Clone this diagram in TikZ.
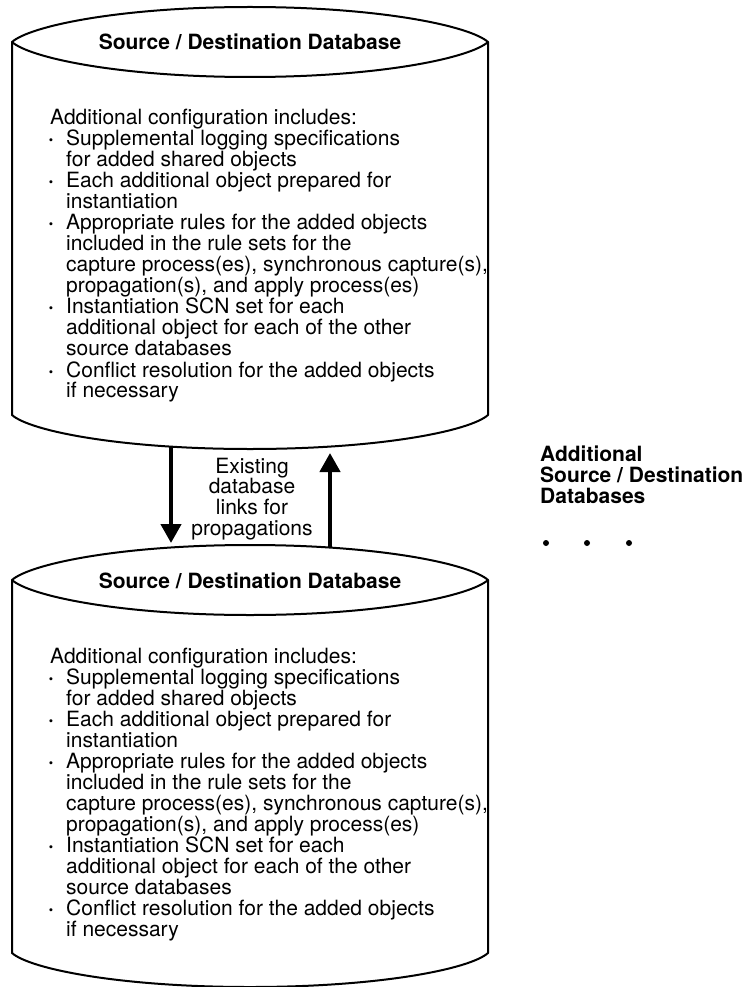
\documentclass[tikz,border=0pt]{standalone}
\usepackage{fontspec}
\setmainfont{TeX Gyre Heros}
\usetikzlibrary{arrows.meta}
\newcommand{\cfgblt}{\makebox[16pt][l]{\hspace*{-2pt}\textbf{·}}}
\newcommand{\cfgind}{\hspace*{16pt}}
\newcommand{\cfgtext}{%
Additional configuration includes:\\
\cfgblt Supplemental logging specifications\\
\cfgind for added shared objects\\
\cfgblt Each additional object prepared for\\
\cfgind instantiation\\
\cfgblt Appropriate rules for the added objects\\
\cfgind included in the rule sets for the\\
\cfgind capture process(es), synchronous capture(s),\\
\cfgind propagation(s), and apply process(es)\\
\cfgblt Instantiation SCN set for each\\
\cfgind additional object for each of the other\\
\cfgind source databases\\
\cfgblt Conflict resolution for the added objects\\
\cfgind if necessary}
\tikzset{
  dbline/.style={line width=2pt, line join=round},
  flow/.style={line width=4.3pt, -{Triangle[length=19pt,width=20pt]}},
  dbtitle/.style={anchor=base, inner sep=0pt, font=\fontsize{21}{21}\selectfont\bfseries},
  cfgblock/.style={anchor=base west, inner sep=0pt},
  dotmark/.style={circle, fill=black, inner sep=0pt, minimum size=6pt}
}
\begin{document}
\begin{tikzpicture}[x=1pt, y=-1pt]
\useasboundingbox (0,0) rectangle (747,987);
% cylinders
\foreach \dy in {0,538} {
  \draw[dbline] (12,42+\dy) .. controls (30,26+\dy) and (120,7+\dy) .. (250,7+\dy)
    .. controls (380,7+\dy) and (470,26+\dy) .. (488,42+\dy)
    .. controls (470,58+\dy) and (380,77+\dy) .. (250,77+\dy)
    .. controls (120,77+\dy) and (30,58+\dy) .. (12,42+\dy) -- cycle;
  \draw[dbline] (12,42+\dy) -- (12,415+\dy)
    .. controls (30,431+\dy) and (120,449+\dy) .. (250,449+\dy)
    .. controls (380,449+\dy) and (470,431+\dy) .. (488,415+\dy) -- (488,42+\dy);
}
% titles
\node[dbtitle] (titleA) at (250,50) {Source / Destination Database};
\node[dbtitle] (titleB) at (250,588) {Source / Destination Database};
% text blocks
\node[cfgblock] (cfgA) at (50,125) {\parbox[t]{440pt}{\fontsize{21}{21}\selectfont\raggedright\cfgtext}};
\node[cfgblock] (cfgB) at (50,663) {\parbox[t]{440pt}{\fontsize{21}{21}\selectfont\raggedright\cfgtext}};
% arrows
\coordinate (downS) at (171,447);
\coordinate (downE) at (171,543);
\coordinate (upS) at (330,548);
\coordinate (upE) at (330,453);
\draw[flow] (downS) -- (downE);
\draw[flow] (upS) -- (upE);
\node[anchor=base, inner sep=0pt] (links) at (252,473) {\parbox[t]{140pt}{\fontsize{21}{20.7}\selectfont\centering Existing\\ database\\ links for\\ propagations}};
% additional databases
\node[anchor=base west, inner sep=0pt] (addl) at (540,461) {\parbox[t]{210pt}{\fontsize{21}{21}\selectfont\bfseries\raggedright Additional\\ Source / Destination\\ Databases}};
\node[dotmark] (dot1) at (546,543) {};
\node[dotmark] (dot2) at (587,543) {};
\node[dotmark] (dot3) at (629,543) {};
\end{tikzpicture}
\end{document}
